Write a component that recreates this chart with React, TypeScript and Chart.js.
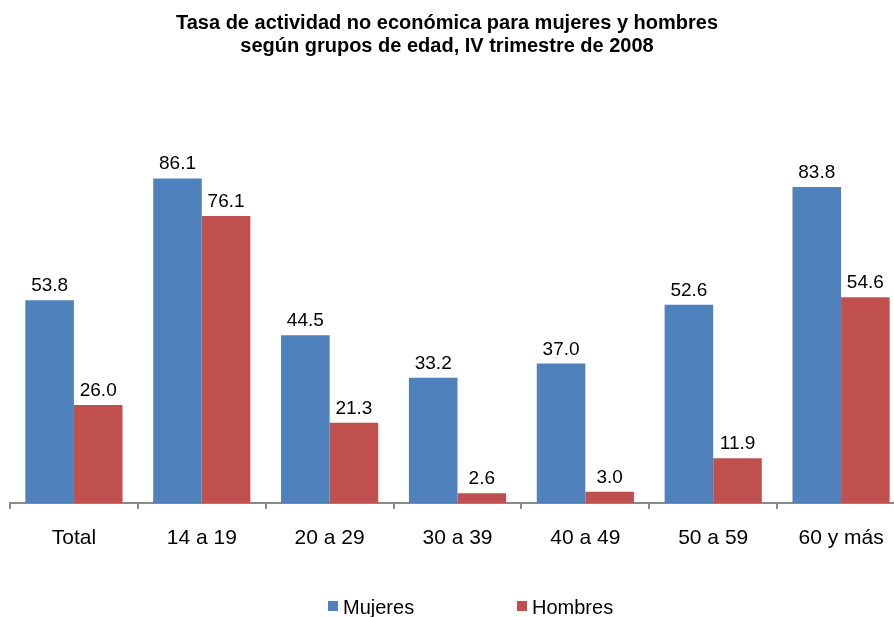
import React, { useEffect, useRef } from "react";
import { Chart, registerables } from "chart.js";

Chart.register(...registerables);

const categories = ["Total", "14 a 19", "20 a 29", "30 a 39", "40 a 49", "50 a 59", "60 y más"];
const mujeres = [53.8, 86.1, 44.5, 33.2, 37.0, 52.6, 83.8];
const hombres = [26.0, 76.1, 21.3, 2.6, 3.0, 11.9, 54.6];
const seriesNames = ["Mujeres", "Hombres"];
const seriesColors = ["#4F81BD", "#C0504D"];
const titleLines = [
  "Tasa de actividad no económica para mujeres y hombres",
  "según grupos de edad, IV trimestre de 2008",
];

const FONT = '"Liberation Sans", Arial, sans-serif';

const decor = {
  id: "decor",
  afterDatasetsDraw(chart: any) {
    const ctx = chart.ctx;
    ctx.save();
    ctx.fillStyle = "#000";
    ctx.textAlign = "center";
    ctx.textBaseline = "alphabetic";
    ctx.font = `19px ${FONT}`;
    chart.data.datasets.forEach((ds: any, i: number) => {
      const meta = chart.getDatasetMeta(i);
      meta.data.forEach((el: any, j: number) => {
        ctx.fillText(Number(ds.data[j]).toFixed(1), el.x, el.y - 9);
      });
    });
    ctx.font = `bold 20px ${FONT}`;
    titleLines.forEach((t, k) => ctx.fillText(t, 447, 29 + k * 23));
    // legend
    ctx.font = `20px ${FONT}`;
    ctx.textAlign = "left";
    const xs = [328, 517];
    chart.data.datasets.forEach((ds: any, i: number) => {
      ctx.fillStyle = ds.backgroundColor;
      ctx.fillRect(xs[i], 601, 10, 10);
      ctx.fillStyle = "#000";
      ctx.fillText(ds.label, xs[i] + 15, 614);
    });
    ctx.restore();
  },
};

export default function App() {
  const ref = useRef<HTMLCanvasElement | null>(null);
  useEffect(() => {
    if (!ref.current) return;
    const chart = new Chart(ref.current, {
      type: "bar",
      data: {
        labels: categories,
        datasets: [
          { label: seriesNames[0], data: mujeres, backgroundColor: seriesColors[0], barPercentage: 1, categoryPercentage: 0.76 },
          { label: seriesNames[1], data: hombres, backgroundColor: seriesColors[1], barPercentage: 1, categoryPercentage: 0.76 },
        ],
      },
      options: {
        animation: false,
        responsive: true,
        maintainAspectRatio: false,
        layout: { padding: { left: 10, right: 15, top: 126, bottom: 54 } },
        plugins: {
          legend: { display: false },
          title: { display: false },
          tooltip: { enabled: false },
        },
        scales: {
          y: { display: false, min: 0, max: 100 },
          x: {
            afterFit: (s: any) => {
              s.height = 60;
            },
            border: { display: true, color: "#898989", width: 2 },
            grid: { display: true, drawOnChartArea: false, drawTicks: true, tickLength: 6, color: "#898989", lineWidth: 2, offset: true },
            ticks: {
              color: "#000",
              font: { family: FONT, size: 21 },
              padding: 17,
              maxRotation: 0,
              autoSkip: false,
            },
          },
        },
      },
      plugins: [decor],
    });
    return () => chart.destroy();
  }, []);
  return (
    <div style={{ position: "fixed", left: 0, top: 0, width: 894, height: 617, overflow: "hidden", background: "#fff" }}>
      <div style={{ position: "relative", width: 920, height: 617 }}>
        <canvas ref={ref} />
      </div>
    </div>
  );
}
